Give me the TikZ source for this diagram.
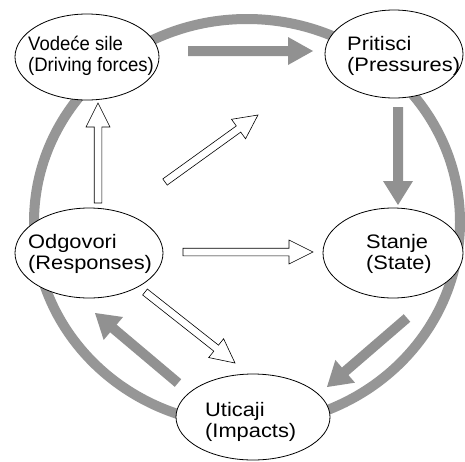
\documentclass[tikz,border=0pt]{standalone}
\usepackage{fontspec}
\setmainfont[FakeStretch=1.12]{Liberation Sans}
\newfontfamily\narrowfont[FakeStretch=0.95]{Liberation Sans}
\usetikzlibrary{shapes.geometric,calc}
\definecolor{cyclegray}{RGB}{150,150,150}
\definecolor{arrgray}{RGB}{145,145,145}
\tikzset{
  ell/.style={ellipse, draw=black, line width=0.8pt, fill=white, inner sep=0pt},
  txt/.style={align=left, anchor=west, inner sep=0pt, font=\fontsize{19.5}{20.5}\selectfont},
  cyclering/.style={draw=cyclegray, line width=10pt},
  grayfill/.style={fill=arrgray, draw=none},
  hollowfill/.style={fill=white, draw=black, line width=0.6pt, line join=miter},
}
% block arrow: #1 style, #2 tail, #3 tip, #4 half shaft, #5 half head, #6 head length
\newcommand\blockarrow[6]{%
  \coordinate (ah) at ($(#3)!#6!(#2)$);
  \path[#1] ($(#2)!#4!90:(#3)$) -- ($(ah)!#4!90:(#3)$) -- ($(ah)!#5!90:(#3)$) -- (#3)
    -- ($(ah)!#5!-90:(#3)$) -- ($(ah)!#4!-90:(#3)$) -- ($(#2)!#4!-90:(#3)$) -- cycle;
}
\begin{document}
\begin{tikzpicture}[x=1pt,y=-1pt]
\useasboundingbox (0,0) rectangle (465,461);
\fill[white] (0,0) rectangle (465,461);
% the cycle
\draw[cyclering] (247,222) ellipse [x radius=213, y radius=203];
% ellipses
\node[ell, minimum width=144pt, minimum height=86pt] (d) at (87,57) {};
\node[ell, minimum width=138pt, minimum height=88pt] (p) at (394,54) {};
\node[ell, minimum width=148pt, minimum height=90pt] (r) at (89,253) {};
\node[ell, minimum width=140pt, minimum height=90pt] (s) at (393,253) {};
\node[ell, minimum width=154pt, minimum height=86pt] (i) at (253,417) {};
% texts
\node[txt, font=\narrowfont\fontsize{19.5}{20.5}\selectfont] (dt) at (28,56) {Vodeće sile\\(Driving forces)};
\node[txt] (pt) at (347,56) {Pritisci\\(Pressures)};
\node[txt] (rt) at (28,254) {Odgovori\\(Responses)};
\node[txt] (st) at (366,254) {Stanje\\(State)};
\node[txt] (it) at (205,422) {Uticaji\\(Impacts)};
% arrow end points
\coordinate (dp1) at (188,51);  \coordinate (dp2) at (313,51);
\coordinate (ps1) at (398,107); \coordinate (ps2) at (398,205);
\coordinate (si1) at (407,318); \coordinate (si2) at (327,387);
\coordinate (ir1) at (178,383); \coordinate (ir2) at (95,313);
\coordinate (rd1) at (98,203);  \coordinate (rd2) at (98,103);
\coordinate (rx1) at (165,182); \coordinate (rx2) at (258,115);
\coordinate (rs1) at (183,252); \coordinate (rs2) at (313,252);
\coordinate (ri1) at (145,292); \coordinate (ri2) at (235,363);
% gray arrows
\blockarrow{grayfill}{dp1}{dp2}{5pt}{14pt}{25pt}
\blockarrow{grayfill}{ps1}{ps2}{5pt}{15pt}{24pt}
\blockarrow{grayfill}{si1}{si2}{5pt}{15pt}{24pt}
\blockarrow{grayfill}{ir1}{ir2}{5pt}{15pt}{24pt}
% hollow arrows
\blockarrow{hollowfill}{rd1}{rd2}{3.8pt}{12pt}{24pt}
\blockarrow{hollowfill}{rx1}{rx2}{3.8pt}{12pt}{24pt}
\blockarrow{hollowfill}{rs1}{rs2}{3.8pt}{12pt}{24pt}
\blockarrow{hollowfill}{ri1}{ri2}{3.8pt}{12pt}{24pt}
\end{tikzpicture}
\end{document}
